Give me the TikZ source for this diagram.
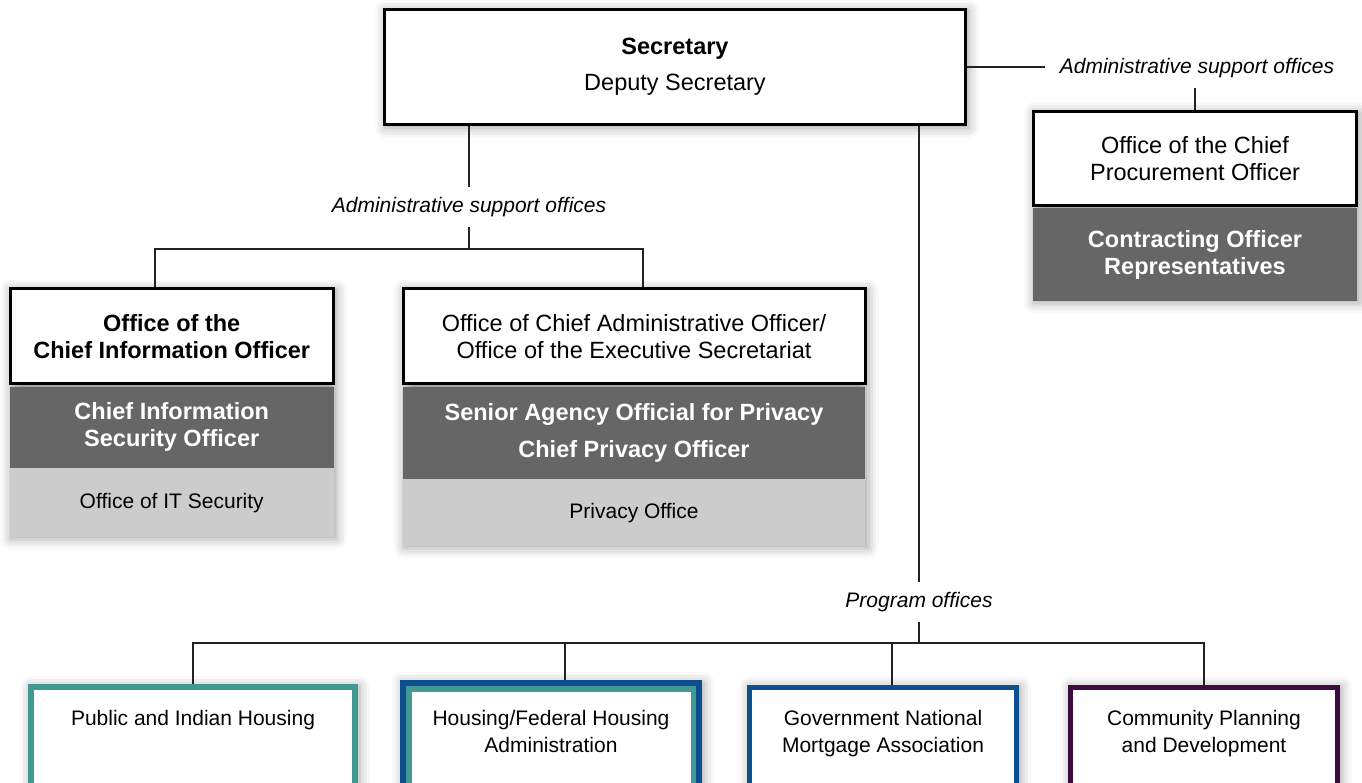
\documentclass[tikz,border=0pt]{standalone}
\usepackage{fontspec}
\setmainfont{Liberation Sans}
\usetikzlibrary{positioning, fit, backgrounds, shadows.blur}

\definecolor{BoxGray}{HTML}{666666}
\definecolor{PaleGray}{HTML}{CCCCCC}
\definecolor{LineGray}{HTML}{222222}
\definecolor{PihTeal}{HTML}{409A93}
\definecolor{HudBlue}{HTML}{0D4E8E}
\definecolor{CpdPlum}{HTML}{3B0C3D}

\begin{document}
\begin{tikzpicture}[x=1pt, y=-1pt,
    every node/.style={font=\fontsize{23.5}{27}\selectfont},
    headbox/.style={draw=black, line width=3pt, fill=white, align=center},
    rankbox/.style={fill=BoxGray, text=white, align=center,
                    font=\fontsize{23.5}{27}\selectfont\bfseries},
    unitbox/.style={fill=PaleGray, align=center, font=\fontsize{21}{27}\selectfont},
    tagtext/.style={font=\fontsize{21}{25}\selectfont\itshape, inner xsep=15pt, inner ysep=10pt},
    progbox/.style={fill=white, align=center, anchor=north, font=\fontsize{21}{27}\selectfont,
                    text height=43pt, text depth=110pt, inner ysep=22pt},
    halo/.style={inner sep=0pt, blur shadow={shadow xshift=2pt, shadow yshift=-2pt,
                 shadow blur radius=10pt, shadow opacity=35}},
    link/.style={draw=LineGray, line width=2pt}]

  \useasboundingbox (0,0) rectangle (1362,783);
  \clip (0,0) rectangle (1362,783);

  % head of the department
  \node[headbox, minimum width=581pt, minimum height=115pt] (sec) at (675,67)
    {\textbf{Secretary}\\[9pt]Deputy Secretary};

  % procurement, off to the right
  \node[headbox, minimum width=323.5pt, minimum height=93.5pt] (cpo) at (1195,158.5)
    {Office of the Chief\\Procurement Officer};
  \node[rankbox, minimum width=324pt, minimum height=92.5pt, below=1.5pt of cpo] (cor)
    {Contracting Officer\\Representatives};

  % CIO stack
  \node[headbox, minimum width=323.5pt, minimum height=94.5pt] (cio) at (171.75,336.25)
    {\textbf{Office of the}\\\textbf{Chief Information Officer}};
  \node[rankbox, minimum width=324pt, minimum height=81pt, below=1.5pt of cio] (ciso)
    {Chief Information\\Security Officer};
  \node[unitbox, minimum width=324pt, minimum height=69pt, below=0pt of ciso] (itsec)
    {Office of IT Security};

  % CAO stack
  \node[headbox, minimum width=462pt, minimum height=94.5pt] (cao) at (634,336.25)
    {Office of Chief Administrative Officer/\\Office of the Executive Secretariat};
  \node[rankbox, minimum width=462pt, minimum height=92pt, below=1.5pt of cao] (saop)
    {Senior Agency Official for Privacy\\[10pt]Chief Privacy Officer};
  \node[unitbox, minimum width=462pt, minimum height=67pt, below=0pt of saop] (privacy)
    {Privacy Office};

  % program offices
  \node[progbox, draw=PihTeal, line width=6pt, minimum width=323.5pt, text height=16pt] (pih) at (193,684)
    {Public and Indian Housing};
  \node[progbox, draw=HudBlue, line width=6pt, minimum width=296pt, inner ysep=26pt] (fha) at (551,680)
    {Housing/Federal Housing\\Administration};
  \draw[PihTeal, line width=5.5pt] ([shift={(8.75pt,-8.75pt)}]fha.north west)
    rectangle ([shift={(-8.75pt,8.75pt)}]fha.south east);
  \node[progbox, draw=HudBlue, line width=5pt, minimum width=267pt] (gnma) at (883,684.5)
    {Government National\\Mortgage Association};
  \node[progbox, draw=CpdPlum, line width=5pt, minimum width=267pt] (cpd) at (1204,684.5)
    {Community Planning\\and Development};

  % group labels
  \node[tagtext] (tagR) at (1197,68) {Administrative support offices};
  \node[tagtext] (tagL) at (469,207) {Administrative support offices};
  \node[tagtext] (tagP) at (919,602) {Program offices};

  \coordinate (busL) at (469,249);
  \coordinate (busP) at (919,643);

  % connectors
  \draw[link] (sec.east) -- (sec.east -| tagR.west);
  \draw[link] (cpo.north |- tagR.south) -- (cpo.north);

  \draw[link] (tagL.north |- sec.south) -- (tagL.north);
  \draw[link] (tagL.south) -- (busL);
  \draw[link] ([xshift=-16.75pt]cio.north) |- (busL) -| ([xshift=9pt]cao.north);

  \draw[link] (tagP.north |- sec.south) -- (tagP.north);
  \draw[link] (tagP.south) -- (busP);
  \draw[link] (pih.north) |- (busP) -| (cpd.north);
  \draw[link] ([xshift=14pt]fha.north) -- ([xshift=14pt]fha.north |- busP);
  \draw[link] ([xshift=9pt]gnma.north) -- ([xshift=9pt]gnma.north |- busP);

  % soft shadows behind the boxes
  \begin{scope}[on background layer]
    \node[halo, fit=(sec)] {};
    \node[halo, fit=(cpo)(cor)] {};
    \node[halo, fit=(cio)(itsec)] {};
    \node[halo, fit=(cao)(privacy)] {};
    \node[halo, fit=(pih)] {};
    \node[halo, fit=(fha)] {};
    \node[halo, fit=(gnma)] {};
    \node[halo, fit=(cpd)] {};
  \end{scope}
\end{tikzpicture}
\end{document}
